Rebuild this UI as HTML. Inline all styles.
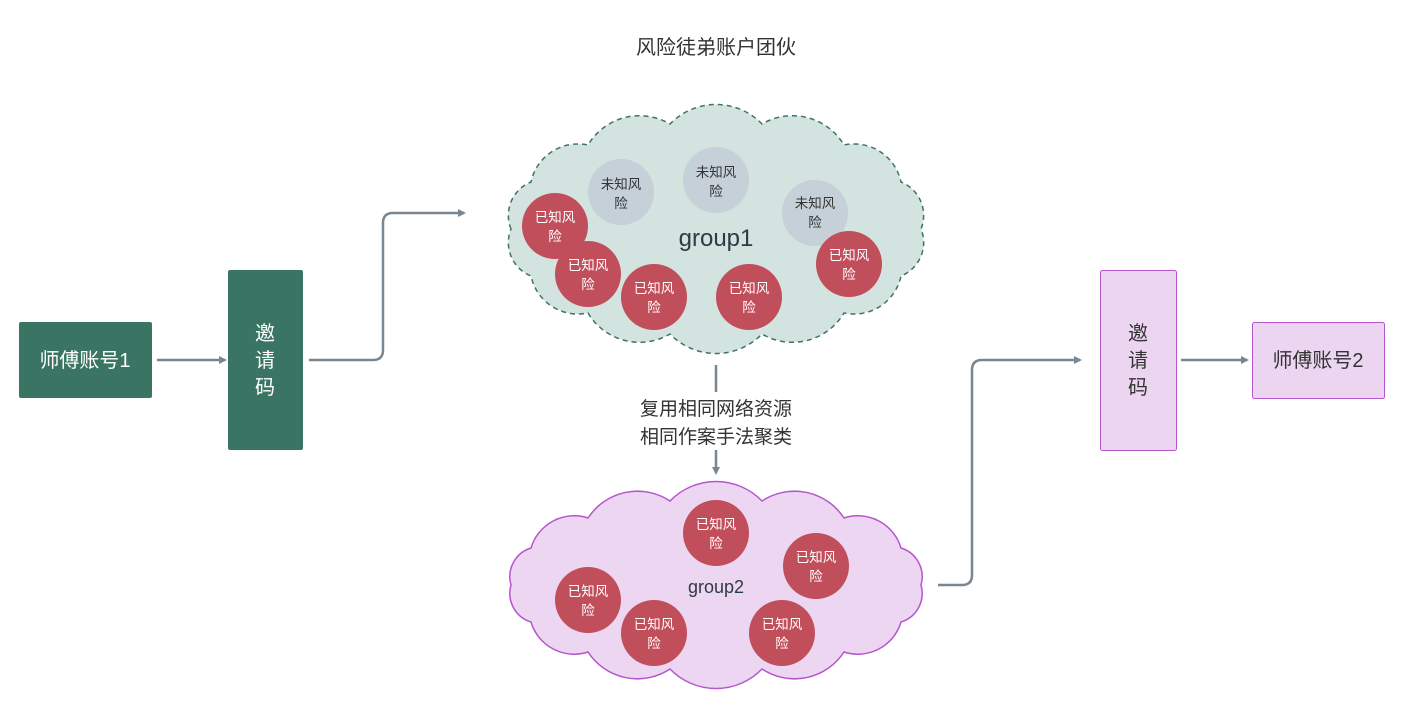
<!DOCTYPE html>
<html><head><meta charset="utf-8"><style>
body{margin:0;background:#fff}
svg text{font-family:"Liberation Sans","Noto Sans CJK SC",sans-serif}
</style></head><body>
<svg width="1404" height="702" viewBox="0 0 1404 702" xmlns="http://www.w3.org/2000/svg">
<defs>
<marker id="ah" markerWidth="8" markerHeight="8" refX="6" refY="4" orient="auto" markerUnits="userSpaceOnUse">
<path d="M0,0 L8,4 L0,8 Z" fill="#7a8791"/></marker>
</defs>
<text x="716" y="54" font-size="20" fill="#333" text-anchor="middle">风险徒弟账户团伙</text>

<path d="M511,229 A36 36 0 0 1 531,182 A48 48 0 0 1 588,145 A60 60 0 0 1 670,124 A64 64 0 0 1 762,124 A60 60 0 0 1 844,145 A48 48 0 0 1 901,182 A36 36 0 0 1 921,229 A36 36 0 0 1 901,276 A48 48 0 0 1 844,313 A60 60 0 0 1 762,334 A64 64 0 0 1 670,334 A60 60 0 0 1 588,313 A48 48 0 0 1 531,276 A36 36 0 0 1 511,229 Z" fill="#d3e3df" stroke="#3e7463" stroke-width="1.5" stroke-dasharray="5,4"/>
<path d="M511,585 A30 30 0 0 1 531,548 A45 45 0 0 1 588,518 A59 59 0 0 1 670,501 A64 64 0 0 1 762,501 A59 59 0 0 1 844,518 A45 45 0 0 1 901,548 A30 30 0 0 1 921,585 A30 30 0 0 1 901,622 A45 45 0 0 1 844,652 A59 59 0 0 1 762,669 A64 64 0 0 1 670,669 A59 59 0 0 1 588,652 A45 45 0 0 1 531,622 A30 30 0 0 1 511,585 Z" fill="#ecd6f1" stroke="#b655cc" stroke-width="1.5"/>

<g font-size="13.5" text-anchor="middle">
<g fill="#c5d0d8"><circle cx="621" cy="192" r="33"/><circle cx="716" cy="180" r="33"/><circle cx="815" cy="213" r="33"/></g>
<g fill="#333"><text x="621" y="189">未知风</text><text x="621" y="208">险</text>
<text x="716" y="177">未知风</text><text x="716" y="196">险</text>
<text x="815" y="208">未知风</text><text x="815" y="227">险</text></g>
<g fill="#c14e5b"><circle cx="555" cy="226" r="33"/><circle cx="588" cy="274" r="33"/><circle cx="654" cy="297" r="33"/><circle cx="749" cy="297" r="33"/><circle cx="849" cy="264" r="33"/>
<circle cx="716" cy="533" r="33"/><circle cx="816" cy="566" r="33"/><circle cx="588" cy="600" r="33"/><circle cx="654" cy="633" r="33"/><circle cx="782" cy="633" r="33"/></g>
<g fill="#fff">
<text x="555" y="222">已知风</text><text x="555" y="241">险</text>
<text x="588" y="270">已知风</text><text x="588" y="289">险</text>
<text x="654" y="293">已知风</text><text x="654" y="312">险</text>
<text x="749" y="293">已知风</text><text x="749" y="312">险</text>
<text x="849" y="260">已知风</text><text x="849" y="279">险</text>
<text x="716" y="529">已知风</text><text x="716" y="548">险</text>
<text x="816" y="562">已知风</text><text x="816" y="581">险</text>
<text x="588" y="596">已知风</text><text x="588" y="615">险</text>
<text x="654" y="629">已知风</text><text x="654" y="648">险</text>
<text x="782" y="629">已知风</text><text x="782" y="648">险</text>
</g></g>
<text x="716" y="246" font-size="24" fill="#2e3a44" text-anchor="middle">group1</text>
<text x="716" y="593" font-size="18" fill="#2e3a44" text-anchor="middle">group2</text>

<rect x="19" y="322" width="133" height="76" rx="2" fill="#3a7563"/>
<text x="85" y="367" font-size="20" fill="#fff" text-anchor="middle">师傅账号1</text>
<rect x="228" y="270" width="75" height="180" rx="2" fill="#3a7563"/>
<g font-size="20" fill="#fff" text-anchor="middle"><text x="265" y="340">邀</text><text x="265" y="367">请</text><text x="265" y="394">码</text></g>

<rect x="1100.5" y="270.5" width="76" height="180" rx="2" fill="#ecd5f1" stroke="#b655cc"/>
<g font-size="20" fill="#333" text-anchor="middle"><text x="1138" y="340">邀</text><text x="1138" y="367">请</text><text x="1138" y="394">码</text></g>
<rect x="1252.5" y="322.5" width="132" height="76" rx="2" fill="#ecd5f1" stroke="#b655cc"/>
<text x="1318" y="367" font-size="20" fill="#333" text-anchor="middle">师傅账号2</text>

<g stroke="#7a8791" stroke-width="2.5" fill="none">
<path d="M157,360 H225" marker-end="url(#ah)"/>
<path d="M309,360 H373 Q383,360 383,350 V223 Q383,213 393,213 H464" marker-end="url(#ah)"/>
<path d="M716,365 V392"/>
<path d="M716,450 V473" marker-end="url(#ah)"/>
<path d="M938,585 H962 Q972,585 972,575 V370 Q972,360 982,360 H1080" marker-end="url(#ah)"/>
<path d="M1181,360 H1247" marker-end="url(#ah)"/>
</g>
<g font-size="19" fill="#333" text-anchor="middle"><text x="716" y="415">复用相同网络资源</text><text x="716" y="443">相同作案手法聚类</text></g>
</svg>
</body></html>
